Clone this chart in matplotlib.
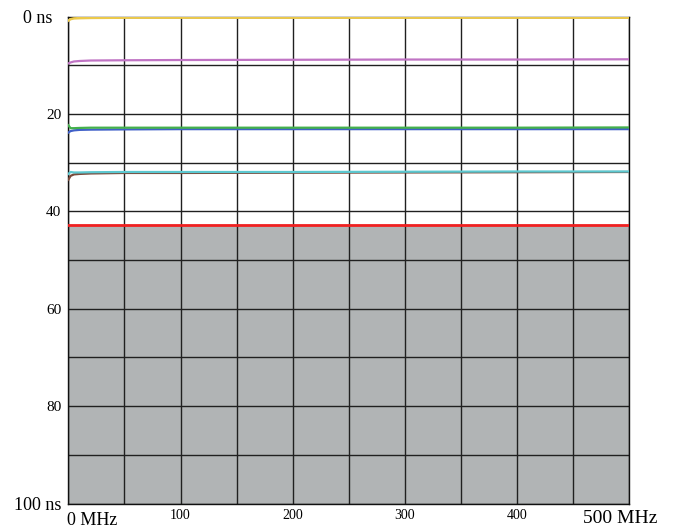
import matplotlib.pyplot as plt
from matplotlib.transforms import blended_transform_factory, ScaledTranslation

# delay traces vs frequency (ns over MHz)
freq = [0, 2, 5, 10, 20, 50, 100, 200, 300, 400, 500]
yellow = [0.8, 0.5, 0.35, 0.3, 0.25, 0.2, 0.2, 0.2, 0.2, 0.2, 0.2]
purple = [9.6, 9.4, 9.2, 9.1, 9.0, 8.95, 8.9, 8.85, 8.8, 8.8, 8.75]
green = [22.3, 22.9, 22.9, 22.85, 22.8, 22.8, 22.8, 22.8, 22.8, 22.8, 22.75]
blue = [23.8, 23.5, 23.35, 23.25, 23.2, 23.15, 23.1, 23.1, 23.1, 23.1, 23.1]
darkgreen = [33.5, 32.7, 32.4, 32.3, 32.2, 32.1, 32.1, 32.05, 32.0, 31.95, 31.9]
cyan = [32.3, 31.9, 32.0, 32.0, 31.95, 31.9, 31.9, 31.9, 31.85, 31.8, 31.8]
red = [42.8] * len(freq)
limit = 42.8

ytick_vals = [0, 20, 40, 60, 80, 100]
ytick_text = ['0 ns', '20', '40', '60', '80', '100 ns']
xtick_vals = [0, 100, 200, 300, 400, 500]
xtick_text = ['0 MHz', '100', '200', '300', '400', '500 MHz']

plt.rcParams['font.family'] = ['Liberation Serif', 'DejaVu Serif']

fig = plt.figure(figsize=(6.84, 5.30), dpi=100)
ax = fig.add_axes([0.0999, 0.05, 0.8202, 0.9185])

ax.axhspan(limit, 100, color='#b1b4b5', zorder=0)

ax.plot(freq, yellow, color='#ecc94a', lw=1.8, zorder=3)
ax.plot(freq, purple, color='#c074c4', lw=1.6, zorder=3)
ax.plot(freq, blue, color='#4060c8', lw=1.6, zorder=3)
ax.plot(freq, green, color='#44b04c', lw=1.6, zorder=3)
ax.plot(freq, darkgreen, color='#7a4a3a', lw=1.6, zorder=3)
ax.plot(freq, cyan, color='#5cc8d0', lw=1.6, zorder=3)
ax.plot(freq, red, color='#f02020', lw=2.0, zorder=3)

ax.set_xlim(0, 500)
ax.set_ylim(100, 0)

ax.set_xticks(range(0, 501, 50))
ax.set_xticklabels([])
ax.set_yticks(range(0, 101, 10))
ax.set_yticklabels(['' if v not in ytick_vals else ytick_text[ytick_vals.index(v)]
                    for v in range(0, 101, 10)])
ax.tick_params(length=0, pad=5)
for lab in ax.get_yticklabels():
    if 'ns' in lab.get_text():
        lab.set_fontsize(13)
    else:
        lab.set_fontsize(11)
    if lab.get_text() == '0 ns':
        # top label sits a bit further left in the original
        lab.set_transform(lab.get_transform() + ScaledTranslation(-9 / 100, 0, fig.dpi_scale_trans))

ax.grid(True, color='#202020', lw=1.0)
for s in ax.spines.values():
    s.set_color('#101010')
    s.set_linewidth(1.0)

trans = blended_transform_factory(ax.transData, ax.transAxes)
for v, t in zip(xtick_vals, xtick_text):
    if v == 0:
        ax.text(v - 1, -0.018, t, transform=trans, ha='left', va='top', fontsize=13)
    elif v == 500:
        ax.text(v - 8, -0.013, t, transform=trans, ha='center', va='top', fontsize=14)
    else:
        ax.text(v, -0.012, t, transform=trans, ha='center', va='top', fontsize=10)

fig.savefig('out.png', dpi=100)
